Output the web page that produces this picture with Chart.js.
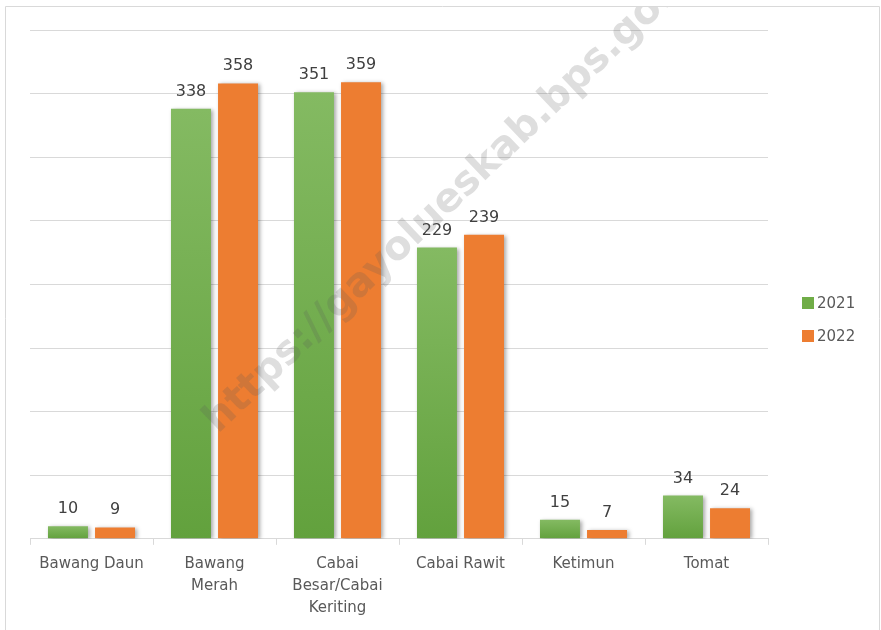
<!DOCTYPE html>
<html>
<head>
<meta charset="utf-8">
<script src="https://cdn.jsdelivr.net/npm/chart.js@4.4.1/dist/chart.umd.min.js"></script>
<style>
  html, body { margin: 0; padding: 0; background: #fff; }
  #wrap { width: 881px; height: 630px; position: relative; }
</style>
</head>
<body>
<div id="wrap"><canvas id="chart"></canvas></div>
<script>
// data
const categories = [
  ['Bawang Daun'],
  ['Bawang', 'Merah'],
  ['Cabai', 'Besar/Cabai', 'Keriting'],
  ['Cabai Rawit'],
  ['Ketimun'],
  ['Tomat']
];
const seriesNames = ['2021', '2022'];
const values2021 = [10, 338, 351, 229, 15, 34];
const values2022 = [9, 358, 359, 239, 7, 24];
const watermark = 'https://gayolueskab.bps.go.id';

// green bars get a light-to-dark vertical gradient per bar
function greenFill(context) {
  const chart = context.chart;
  const y = chart.scales.y;
  if (!y || context.type !== 'data') return '#70AD47';
  const top = y.getPixelForValue(context.raw);
  const bottom = y.getPixelForValue(0);
  if (!isFinite(top) || !isFinite(bottom) || top === bottom) return '#70AD47';
  const g = chart.ctx.createLinearGradient(0, top, 0, bottom);
  g.addColorStop(0, '#84BA62');
  g.addColorStop(1, '#62A13D');
  return g;
}

// soft shadow behind bars
const barShadow = {
  id: 'barShadow',
  beforeDatasetsDraw(chart) {
    const ctx = chart.ctx;
    ctx.save();
    ctx.shadowColor = 'rgba(0,0,0,0.35)';
    ctx.shadowBlur = 4;
    ctx.shadowOffsetX = 2;
    ctx.shadowOffsetY = 1;
  },
  afterDatasetsDraw(chart) {
    chart.ctx.restore();
  }
};

// value labels above bars
const valueLabels = {
  id: 'valueLabels',
  afterDatasetsDraw(chart) {
    const ctx = chart.ctx;
    ctx.save();
    ctx.font = '16px "DejaVu Sans"';
    ctx.fillStyle = '#404040';
    ctx.textAlign = 'center';
    ctx.textBaseline = 'alphabetic';
    chart.data.datasets.forEach((ds, i) => {
      chart.getDatasetMeta(i).data.forEach((bar, j) => {
        ctx.fillText(ds.data[j], bar.x, bar.y - 13);
      });
    });
    ctx.restore();
  }
};

// legend on the right + frame + watermark
const extras = {
  id: 'extras',
  afterDraw(chart) {
    const ctx = chart.ctx;
    ctx.save();
    // legend
    ctx.font = '15px "DejaVu Sans"';
    ctx.textBaseline = 'middle';
    ctx.textAlign = 'left';
    const legendY = [303, 336];
    chart.data.datasets.forEach((ds, i) => {
      ctx.fillStyle = i === 0 ? '#70AD47' : '#ED7D31';
      ctx.fillRect(802, legendY[i] - 6, 12, 12);
      ctx.fillStyle = '#595959';
      ctx.fillText(ds.label, 817, legendY[i] + 1);
    });
    // watermark
    ctx.save();
    ctx.beginPath();
    ctx.rect(6, 7, 873, 623);
    ctx.clip();
    ctx.translate(218, 434);
    ctx.rotate(-43.5 * Math.PI / 180);
    ctx.font = 'bold 40px "DejaVu Sans"';
    ctx.fillStyle = 'rgba(90,90,90,0.2)';
    ctx.textBaseline = 'alphabetic';
    ctx.fillText(watermark, 0, 0);
    ctx.restore();
    // frame
    ctx.strokeStyle = '#d9d9d9';
    ctx.lineWidth = 1;
    ctx.beginPath();
    ctx.moveTo(5.5, 630);
    ctx.lineTo(5.5, 6.5);
    ctx.lineTo(879.5, 6.5);
    ctx.lineTo(879.5, 630);
    ctx.stroke();
    ctx.restore();
  }
};

const ctx = document.getElementById('chart').getContext('2d');
const chart = new Chart(ctx, {
  type: 'bar',
  data: {
    labels: categories,
    datasets: [
      {
        label: seriesNames[0],
        data: values2021,
        backgroundColor: greenFill,
        categoryPercentage: 0.765,
        barPercentage: 0.85
      },
      {
        label: seriesNames[1],
        data: values2022,
        backgroundColor: '#ED7D31',
        categoryPercentage: 0.765,
        barPercentage: 0.85
      }
    ]
  },
  options: {
    responsive: true,
    maintainAspectRatio: false,
    animation: false,
    layout: {
      padding: { left: 30, right: 113, top: 30, bottom: 3 }
    },
    plugins: {
      legend: { display: false },
      tooltip: { enabled: false }
    },
    scales: {
      y: {
        min: 0,
        max: 400,
        ticks: { display: false, stepSize: 50 },
        grid: { color: '#d9d9d9', lineWidth: 1, drawTicks: false },
        border: { display: false }
      },
      x: {
        grid: {
          display: true,
          drawOnChartArea: false,
          drawTicks: true,
          tickLength: 6,
          color: '#d9d9d9'
        },
        border: { display: true, color: '#d9d9d9', width: 1 },
        ticks: {
          color: '#595959',
          font: { family: '"DejaVu Sans"', size: 15, lineHeight: 1.47 },
          padding: 8,
          maxRotation: 0,
          autoSkip: false
        }
      }
    }
  },
  plugins: [barShadow, valueLabels, extras]
});
</script>
</body>
</html>
